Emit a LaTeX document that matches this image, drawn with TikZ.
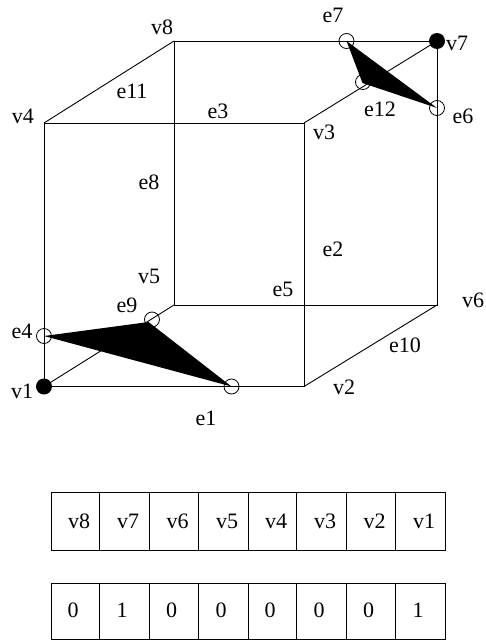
\documentclass[tikz,border=0pt]{standalone}
\usepackage{fontspec}
\setmainfont{Liberation Serif}
\tikzset{
 edge/.style={draw=black,line width=0.9pt},
 lab/.style={inner sep=0pt,font=\fontsize{22}{22}\selectfont,text=black},
 hollow/.style={circle,draw=black,line width=0.8pt,minimum size=15pt,inner sep=0pt,fill=none},
 solid/.style={circle,fill=black,minimum size=16pt,inner sep=0pt}
}
\begin{document}
\begin{tikzpicture}[x=1pt,y=-1pt]
\useasboundingbox (0,0) rectangle (485,640);
\coordinate (V1) at (44,386.5);
\coordinate (V2) at (304,386.5);
\coordinate (V3) at (304,123);
\coordinate (V4) at (44,123);
\coordinate (V5) at (174,305);
\coordinate (V6) at (437,305);
\coordinate (V7) at (437,41);
\coordinate (V8) at (174,41);
\draw[edge] (V1)--(V2)--(V3)--(V4)--cycle;
\draw[edge] (V5)--(V6)--(V7)--(V8)--cycle;
\draw[edge] (V1)--(V5) (V2)--(V6) (V3)--(V7) (V4)--(V8);
\node[hollow] (E4) at (44,336) {};
\node[hollow] (E9) at (152,319.5) {};
\node[hollow] (E1) at (231.5,386.5) {};
\node[hollow] (E7) at (346.5,41) {};
\node[hollow] (E12) at (363,82) {};
\node[hollow] (E6) at (437,108) {};
\fill[black] (E4.center)--(148.5,322)--(E1.center)--cycle;
\fill[black] (E7.center)--(E6.center)--(362.5,83)--cycle;
\node[solid] (N1) at (V1) {};
\node[solid] (N7) at (V7) {};
\node[lab] at (22,391) {v1};
\node[lab] at (344,387) {v2};
\node[lab] at (324,132) {v3};
\node[lab] at (23,116) {v4};
\node[lab] at (149,276) {v5};
\node[lab] at (473,300) {v6};
\node[lab] at (457,43) {v7};
\node[lab] at (162,27) {v8};
\node[lab] at (206,418) {e1};
\node[lab] at (333,249) {e2};
\node[lab] at (218,111) {e3};
\node[lab] at (22,331) {e4};
\node[lab] at (283,289) {e5};
\node[lab] at (463,116) {e6};
\node[lab] at (333,15) {e7};
\node[lab] at (149,182) {e8};
\node[lab] at (127,305) {e9};
\node[lab] at (405,345) {e10};
\node[lab] at (132,91) {e11};
\node[lab] at (380,109) {e12};
\foreach \a/\b/\t/\d [count=\i] in {51/99/v8/0,99/149/v7/1,149/198/v6/0,198/248/v5/0,248/296/v4/0,296/346/v3/0,346/395/v2/0,395/445/v1/1}{
 \draw[edge] (\a,492) rectangle (\b,550);
 \draw[edge] (\a,583) rectangle (\b,639.4);
 \node[lab] (top\i) at ({(\a+\b)/2+4},521) {\t};
 \node[lab] (bot\i) at ({(\a+\b)/2-2},610) {\d};
}
\end{tikzpicture}
\end{document}
